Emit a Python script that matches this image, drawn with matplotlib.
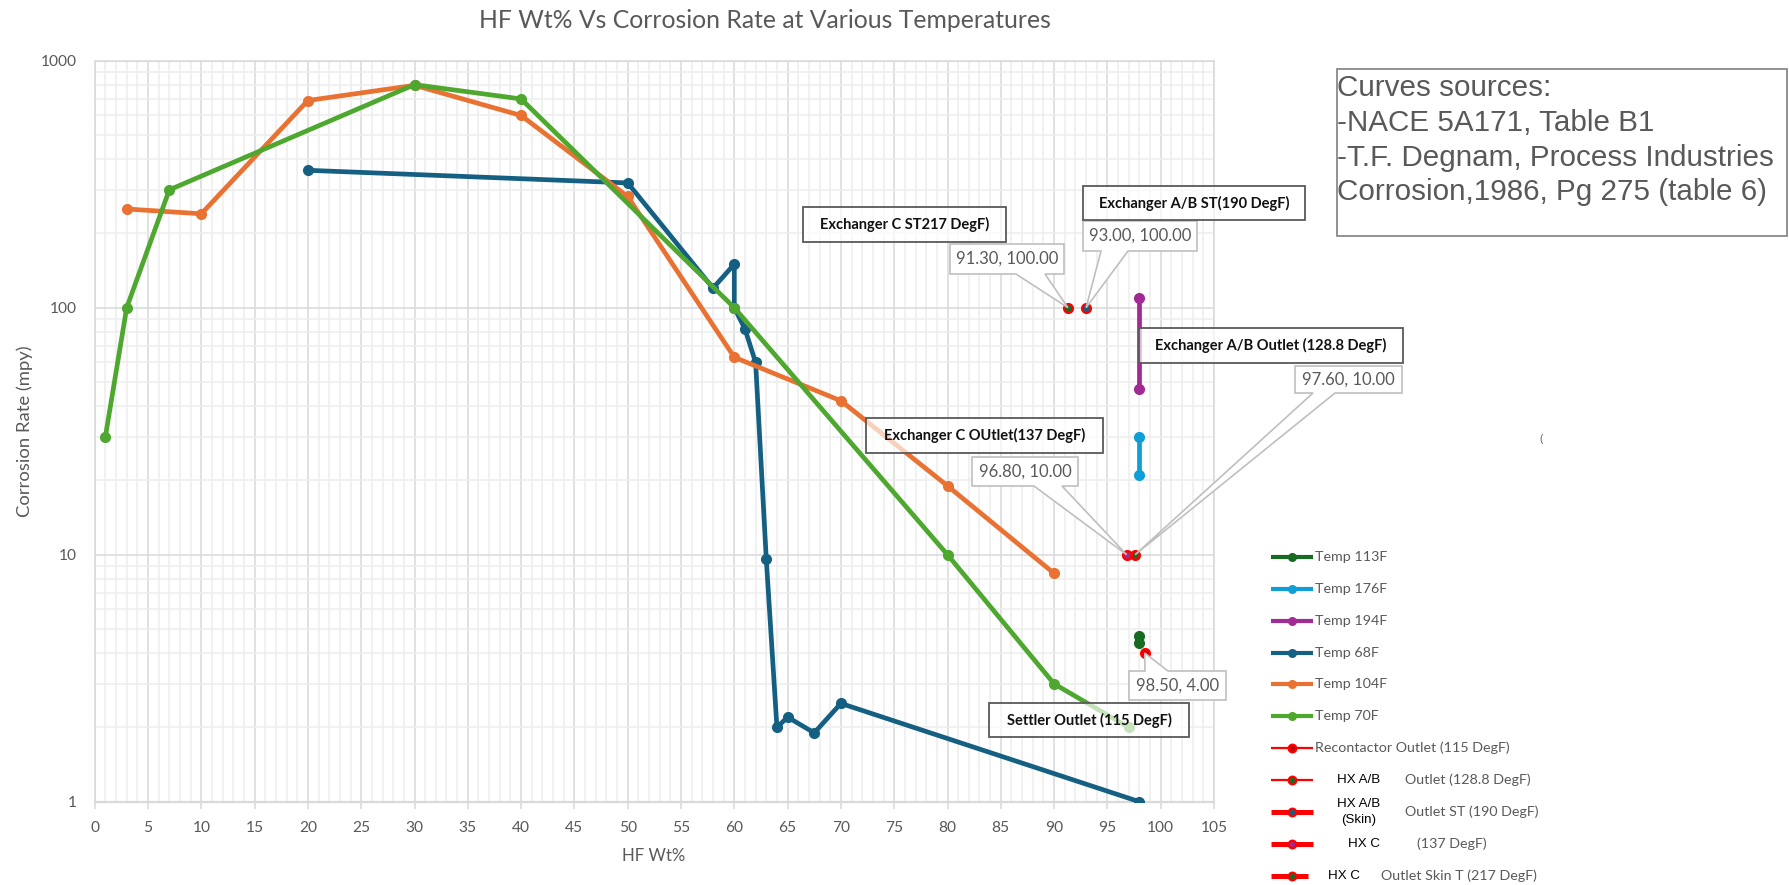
import matplotlib
matplotlib.use('Agg')
import matplotlib.pyplot as plt
from matplotlib.font_manager import FontProperties, findfont
from matplotlib.patches import Rectangle, Polygon
from matplotlib.lines import Line2D
from matplotlib.ticker import MultipleLocator, FixedLocator, NullFormatter, FixedFormatter

# ---------------- data ----------------
t113_x = [98, 98]
t113_y = [4.7, 4.4]
t176_x = [98, 98]
t176_y = [30, 21]
t194_x = [98, 98]
t194_y = [109, 47]
t68_x = [20, 50, 58, 60, 60, 61, 62, 63, 64, 65, 67.5, 70, 98]
t68_y = [360, 320, 120, 150, 100, 82, 60, 9.6, 2.0, 2.2, 1.9, 2.5, 1.0]
t104_x = [3, 10, 20, 30, 40, 50, 60, 70, 80, 90]
t104_y = [251, 240, 690, 795, 600, 282, 63, 42, 19, 8.4]
t70_x = [1, 3, 7, 30, 40, 60, 80, 90, 97]
t70_y = [30, 100, 300, 800, 700, 100, 10, 3, 2]

recontactor_pt = (98.5, 4.0)
hxab_outlet_pt = (97.6, 10.0)
hxab_skin_pt = (93.0, 100.0)
hxc_pt = (96.8, 10.0)
hxc_skin_pt = (91.3, 100.0)

x_ticks = list(range(0, 106, 5))
y_ticks = [1, 10, 100, 1000]
y_ticklabels = ['1', '10', '100', '1000']

legend_labels = ['Temp 113F', 'Temp 176F', 'Temp 194F', 'Temp 68F', 'Temp 104F',
                 'Temp 70F', 'Recontactor Outlet (115 DegF)']

title = 'HF Wt% Vs Corrosion Rate at Various Temperatures'
xlabel = 'HF Wt%'
ylabel = 'Corrosion Rate (mpy)'
sources = ['Curves sources:', '-NACE 5A171, Table B1',
           '-T.F. Degnam, Process Industries', 'Corrosion,1986, Pg 275 (table 6)']

# ---------------- style ----------------
C113 = '#196B24'
C176 = '#0F9ED5'
C194 = '#A02B93'
C68 = '#156082'
C104 = '#E97132'
C70 = '#4EA72E'
RED = '#FF0000'
GRAY = '#595959'
GRID_MAJ = '#D9D9D9'
GRID_MIN = '#EEEEEE'

W, H, DPI = 1789, 885, 100


def have(fam):
    try:
        findfont(FontProperties(family=fam), fallback_to_default=False)
        return True
    except Exception:
        return False


NARROW = 'Liberation Sans Narrow' if have('Liberation Sans Narrow') else 'Lato'
ARIAL = 'Liberation Sans'

fig = plt.figure(figsize=(W / DPI, H / DPI), dpi=DPI)
fig.patch.set_facecolor('white')
renderer = fig.canvas.get_renderer()


def size_for(text, width, family, weight='normal'):
    t = fig.text(0, 0, text, fontsize=10, family=family, weight=weight)
    w = t.get_window_extent(renderer).width
    t.remove()
    return 10 * width / w


def fx(px):
    return px / W


def fy(py):
    return 1 - py / H


ax = fig.add_axes([fx(94.7), fy(801.7), fx(1214) - fx(94.7), fy(60.7) - fy(801.7)])
ax.set_yscale('log')
ax.set_xlim(0, 105)
ax.set_ylim(1, 1000)
ax.set_axisbelow(True)

ax.xaxis.set_major_locator(FixedLocator(x_ticks))
ax.xaxis.set_minor_locator(MultipleLocator(1))
ax.yaxis.set_major_locator(FixedLocator(y_ticks))
ax.yaxis.set_major_formatter(FixedFormatter(y_ticklabels))
ax.yaxis.set_minor_locator(FixedLocator([m * 10 ** e for e in range(0, 3) for m in range(2, 10)]))
ax.yaxis.set_minor_formatter(NullFormatter())
ax.grid(True, which='minor', color=GRID_MIN, lw=1.1)
ax.grid(True, which='major', color=GRID_MAJ, lw=1.1)
for s in ax.spines.values():
    s.set_color(GRID_MAJ)
    s.set_linewidth(1.1)
ax.spines['bottom'].set_linewidth(1.6)

tick_size = size_for('1000', 36, NARROW)
ax.tick_params(axis='x', which='major', length=5, color=GRID_MAJ, width=1.1,
               labelsize=tick_size, labelcolor=GRAY, pad=9)
ax.tick_params(axis='y', which='major', length=0, labelsize=tick_size, labelcolor=GRAY, pad=13)
ax.tick_params(which='minor', length=0)
for lab in ax.get_xticklabels() + ax.get_yticklabels():
    lab.set_family(NARROW)

LW, MS = 3.4, 7
ax.plot(t113_x, t113_y, color=C113, lw=LW, marker='o', ms=MS, zorder=3)
ax.plot(t176_x, t176_y, color=C176, lw=LW, marker='o', ms=MS, zorder=3)
ax.plot(t194_x, t194_y, color=C194, lw=LW, marker='o', ms=MS, zorder=3)
ax.plot(t68_x, t68_y, color=C68, lw=LW, marker='o', ms=MS, zorder=3)
ax.plot(t104_x, t104_y, color=C104, lw=LW, marker='o', ms=MS, zorder=3)
ax.plot(t70_x, t70_y, color=C70, lw=LW, marker='o', ms=MS, zorder=3)

red_pts = [(recontactor_pt, '#C00000'), (hxab_outlet_pt, C113), (hxab_skin_pt, C68),
           (hxc_pt, C194), (hxc_skin_pt, C113)]
for (px_, py_), face in red_pts:
    ax.plot([px_], [py_], ls='none', marker='o', ms=6.2, mfc=face, mec=RED, mew=1.8, zorder=4)

# ---------------- titles ----------------
fig.text(fx(765), fy(20), title, ha='center', va='center', color=GRAY, family=NARROW,
         fontsize=size_for(title, 572, NARROW))
fig.text(fx(654), fy(856), xlabel, ha='center', va='center', color=GRAY, family=NARROW,
         fontsize=size_for(xlabel, 63, NARROW))
fig.text(fx(25), fy(431), ylabel, ha='center', va='center', color=GRAY, family=NARROW,
         rotation=90, fontsize=size_for(ylabel, 172, NARROW))

# ---------------- callouts ----------------
def data_px(x, y):
    dx, dy = ax.transData.transform((x, y))
    return dx, H - dy


def callout(text, pt, box, base, where='bottom'):
    x0, y0, x1, y1 = box
    tx, ty = data_px(*pt)
    a, b = base
    if where == 'bottom':
        verts = [(x0, y0), (x1, y0), (x1, y1), (b, y1), (tx, ty), (a, y1), (x0, y1)]
    else:
        verts = [(x0, y0), (a, y0), (tx, ty), (b, y0), (x1, y0), (x1, y1), (x0, y1)]
    poly = Polygon([(fx(u), fy(v)) for u, v in verts], closed=True, transform=fig.transFigure,
                   facecolor='white', edgecolor='#BFBFBF', lw=1.2, zorder=5)
    fig.add_artist(poly)
    fig.text(fx((x0 + x1) / 2), fy((y0 + y1) / 2), text, ha='center', va='center',
             color=GRAY, family=NARROW, fontsize=lab_size, zorder=6)


lab_size = size_for('91.30, 100.00', 102, NARROW)
callout('%.2f, %.2f' % hxc_skin_pt, hxc_skin_pt, (950, 244, 1064, 274), (1016, 1045))
callout('%.2f, %.2f' % hxab_skin_pt, hxab_skin_pt, (1083, 221, 1197, 251), (1101, 1128))
callout('%.2f, %.2f' % hxc_pt, hxc_pt, (972, 457, 1078, 486), (1034, 1062))
callout('%.2f, %.2f' % hxab_outlet_pt, hxab_outlet_pt, (1295, 366, 1402, 393), (1313, 1335))
callout('%.2f, %.2f' % recontactor_pt, recontactor_pt, (1129, 671, 1226, 700), (1145, 1168), 'top')

# ---------------- bold labels ----------------
bold_size = size_for('Exchanger A/B Outlet (128.8 DegF)', 232, NARROW, 'bold')
bold_labels = [
    ('Exchanger C ST217 DegF)', (803, 207, 1006, 242)),
    ('Exchanger A/B ST(190 DegF)', (1083, 186, 1305, 220)),
    ('Exchanger A/B Outlet (128.8 DegF)', (1139, 328, 1403, 363)),
    ('Exchanger C OUtlet(137 DegF)', (866, 418, 1103, 453)),
    ('Settler Outlet (115 DegF)', (989, 703, 1189, 737)),
]
for txt, (x0, y0, x1, y1) in bold_labels:
    fig.add_artist(Rectangle((fx(x0), fy(y1)), fx(x1) - fx(x0), fy(y0) - fy(y1),
                             transform=fig.transFigure, facecolor=(1, 1, 1, 0.68),
                             edgecolor='#595959', lw=1.3, zorder=5))
    fig.text(fx((x0 + x1) / 2), fy((y0 + y1) / 2), txt, ha='center', va='center',
             color='#111111', family=NARROW, weight='bold', fontsize=bold_size, zorder=6)

# ---------------- sources box ----------------
fig.add_artist(Rectangle((fx(1337), fy(236)), fx(1787) - fx(1337), fy(69) - fy(236),
                         transform=fig.transFigure, facecolor='white', edgecolor='#7F7F7F',
                         lw=1.2, zorder=5))
src_size = size_for(sources[2], 437, ARIAL)
for line, yy in zip(sources, [88, 123, 158, 192]):
    fig.text(fx(1337), fy(yy), line, ha='left', va='center', color=GRAY, family=ARIAL,
             fontsize=src_size, zorder=6)

fig.text(fx(1541), fy(439), '(', ha='center', va='center', color=GRAY, family=ARIAL,
         fontsize=7)

# ---------------- legend ----------------
rows_y = [557, 589, 621, 653, 684, 716, 748, 780, 812, 844, 876]
leg_size = size_for('Temp 113F', 72, NARROW)
black_size = size_for('HX A/B', 43, ARIAL)
temp_cols = [C113, C176, C194, C68, C104, C70]


def leg_line(y, color, lw, face, edge, x1=1313):
    fig.add_artist(Line2D([fx(1271), fx(x1)], [fy(y), fy(y)], transform=fig.transFigure,
                          color=color, lw=lw, solid_capstyle='butt'))
    fig.add_artist(Line2D([fx(1292)], [fy(y)], transform=fig.transFigure, ls='none',
                          marker='o', ms=5.5 if edge != face else 6.5, mfc=face, mec=edge,
                          mew=1.6 if edge != face else 0))


for i, c in enumerate(temp_cols):
    leg_line(rows_y[i], c, 3.0, c, c)
leg_line(rows_y[6], RED, 1.6, '#C00000', RED)
leg_line(rows_y[7], RED, 1.6, C113, RED)
leg_line(rows_y[8], RED, 3.6, C68, RED)
leg_line(rows_y[9], RED, 3.6, C194, RED)
leg_line(rows_y[10], RED, 3.6, C113, RED, x1=1308)

for i, lab in enumerate(legend_labels):
    fig.text(fx(1315), fy(rows_y[i]), lab, ha='left', va='center', color=GRAY,
             family=NARROW, fontsize=leg_size)

fig.text(fx(1358.5), fy(780), 'HX A/B', ha='center', va='center', color='black',
         family=ARIAL, fontsize=black_size)
fig.text(fx(1405), fy(780), 'Outlet (128.8 DegF)', ha='left', va='center', color=GRAY,
         family=NARROW, fontsize=leg_size)
fig.text(fx(1359), fy(804), 'HX A/B', ha='center', va='center', color='black',
         family=ARIAL, fontsize=black_size)
fig.text(fx(1359), fy(820), '(Skin)', ha='center', va='center', color='black',
         family=ARIAL, fontsize=black_size)
fig.text(fx(1405), fy(812), 'Outlet ST (190 DegF)', ha='left', va='center', color=GRAY,
         family=NARROW, fontsize=leg_size)
fig.text(fx(1364.5), fy(844), 'HX C', ha='center', va='center', color='black',
         family=ARIAL, fontsize=black_size)
fig.text(fx(1417), fy(844), '(137 DegF)', ha='left', va='center', color=GRAY,
         family=NARROW, fontsize=leg_size)
fig.text(fx(1344.5), fy(876), 'HX C', ha='center', va='center', color='black',
         family=ARIAL, fontsize=black_size)
fig.text(fx(1381), fy(876), 'Outlet Skin T (217 DegF)', ha='left', va='center', color=GRAY,
         family=NARROW, fontsize=leg_size)

fig.savefig('out.png', dpi=DPI, facecolor='white')
